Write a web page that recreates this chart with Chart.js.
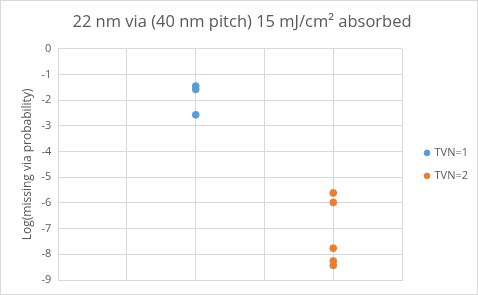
<!DOCTYPE html>
<html>
<head>
<meta charset="utf-8">
<script src="https://cdn.jsdelivr.net/npm/chart.js@4/dist/chart.umd.min.js"></script>
<style>
html,body{margin:0;padding:0;background:#fff;}
canvas{display:block;}
</style>
</head>
<body>
<canvas id="c" width="478" height="295"></canvas>
<script>
const seriesNames = ["TVN=1", "TVN=2"];
const seriesX = [2, 4];
const tvn1Values = [-1.45, -1.58, -2.57];
const tvn2Values = [-5.61, -5.98, -7.76, -8.26, -8.43];
const yTicks = [0, -1, -2, -3, -4, -5, -6, -7, -8, -9];
const titleText = "22 nm via (40 nm pitch) 15 mJ/cm\u00B2 absorbed";
const yAxisTitle = "Log(missing via probability)";

const colors = ["#5b9bd5", "#ed7d31"];
const allValues = [tvn1Values, tvn2Values];
const datasets = seriesNames.map((name, i) => ({
  label: name,
  data: allValues[i].map(v => ({x: seriesX[i], y: v})),
  backgroundColor: colors[i],
  borderColor: colors[i],
  pointRadius: 3.4,
  pointHoverRadius: 3.4,
  showLine: false
}));

const borderPlugin = {
  id: 'outerBorder',
  beforeDraw(chart) {
    const ctx = chart.ctx;
    ctx.save();
    ctx.fillStyle = '#ffffff';
    ctx.fillRect(0, 0, chart.width, chart.height);
    ctx.strokeStyle = '#d9d9d9';
    ctx.lineWidth = 1;
    ctx.strokeRect(0.5, 0.5, chart.width - 1, chart.height - 1);
    ctx.restore();
  }
};

new Chart(document.getElementById('c'), {
  type: 'scatter',
  data: { datasets },
  plugins: [borderPlugin],
  options: {
    responsive: false,
    animation: false,
    layout: { padding: { left: 6, right: 0, top: 0, bottom: 15 } },
    plugins: {
      title: {
        display: true,
        text: titleText,
        color: '#595959',
        font: { family: 'Open Sans', size: 16.5, weight: 'normal' },
        padding: { top: 12, bottom: 17 }
      },
      legend: {
        position: 'right',
        fullSize: false,
        labels: {
          usePointStyle: true,
          pointStyle: 'circle',
          boxWidth: 4,
          boxHeight: 4,
          color: '#595959',
          font: { family: 'Open Sans', size: 11 },
          padding: 12
        }
      },
      tooltip: { enabled: false }
    },
    scales: {
      x: {
        type: 'linear',
        min: 0,
        max: 5,
        ticks: { display: false, stepSize: 1 },
        grid: { color: '#d9d9d9', drawTicks: false },
        border: { color: '#d9d9d9' }
      },
      y: {
        min: -9,
        max: 0,
        afterBuildTicks(axis) { axis.ticks = yTicks.map(v => ({value: v})); },
        ticks: {
          color: '#595959',
          font: { family: 'Open Sans', size: 11 },
          padding: 7
        },
        grid: { color: '#d9d9d9', drawTicks: false },
        border: { color: '#d9d9d9' },
        title: {
          display: true,
          text: yAxisTitle,
          color: '#595959',
          font: { family: 'Open Sans', size: 12 },
          padding: { top: 14, bottom: 0 }
        }
      },
      gap: {
        type: 'linear',
        position: 'right',
        display: true,
        grid: { display: false },
        border: { display: false },
        ticks: { display: false },
        afterFit(scale) { scale.width = 11; }
      }
    }
  }
});
</script>
</body>
</html>
